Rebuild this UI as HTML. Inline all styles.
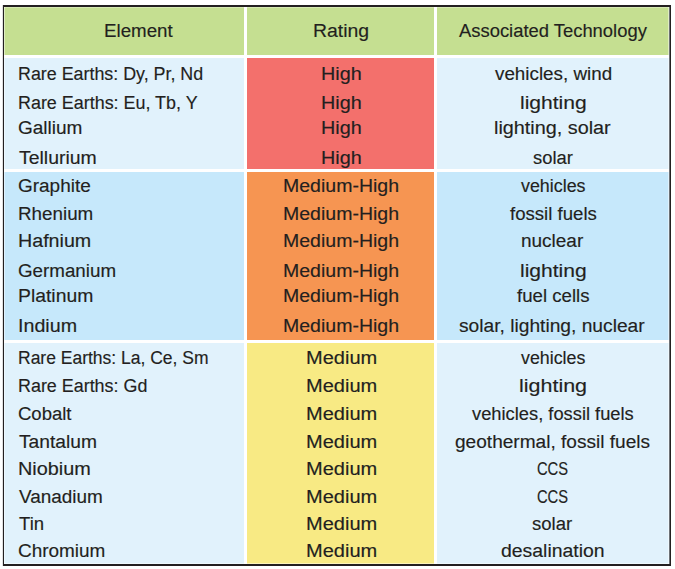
<!DOCTYPE html>
<html><head><meta charset="utf-8"><style>
html,body{margin:0;padding:0;background:#fff;width:675px;height:569px;overflow:hidden;position:relative}
.c{position:absolute}
.t{position:absolute;font-family:"Liberation Sans",sans-serif;font-size:18px;line-height:20px;white-space:nowrap;color:#231f20;-webkit-text-stroke:0.15px #231f20;transform-origin:0 0}
.bd{position:absolute;background:#231f20}
</style></head><body>
<div class="c" style="left:4px;top:7px;width:240px;height:48px;background:#c5df91"></div>
<div class="c" style="left:247px;top:7px;width:187px;height:48px;background:#c5df91"></div>
<div class="c" style="left:437px;top:7px;width:232px;height:48px;background:#c5df91"></div>
<div class="c" style="left:4px;top:58px;width:240px;height:111px;background:#e1f2fc"></div>
<div class="c" style="left:247px;top:58px;width:187px;height:111px;background:#f3706c"></div>
<div class="c" style="left:437px;top:58px;width:232px;height:111px;background:#e1f2fc"></div>
<div class="c" style="left:4px;top:172px;width:240px;height:168px;background:#c6e8fb"></div>
<div class="c" style="left:247px;top:172px;width:187px;height:168px;background:#f69552"></div>
<div class="c" style="left:437px;top:172px;width:232px;height:168px;background:#c6e8fb"></div>
<div class="c" style="left:4px;top:343px;width:240px;height:221px;background:#e1f2fc"></div>
<div class="c" style="left:247px;top:343px;width:187px;height:221px;background:#f8ea84"></div>
<div class="c" style="left:437px;top:343px;width:232px;height:221px;background:#e1f2fc"></div>

<div class="bd" style="left:4px;top:7px;width:1px;height:557px;background:rgba(255,255,255,.45)"></div>
<div class="bd" style="left:4px;top:7px;width:665px;height:1px;background:rgba(255,255,255,.3)"></div>
<div class="bd" style="left:668px;top:7px;width:1px;height:557px;background:rgba(255,255,255,.45)"></div>
<div class="bd" style="left:4px;top:563px;width:665px;height:1px;background:rgba(255,255,255,.45)"></div>
<div class="bd" style="left:2px;top:5px;width:1px;height:561px;background:rgba(0,0,0,.12)"></div>
<div class="bd" style="left:669px;top:5px;width:1px;height:561px;background:#6e7276"></div>
<div class="bd" style="left:3px;top:5px;width:668px;height:2px"></div>
<div class="bd" style="left:3px;top:5px;width:1px;height:561px"></div>
<div class="bd" style="left:670px;top:5px;width:1px;height:561px"></div>
<div class="bd" style="left:3px;top:564px;width:668px;height:2px"></div>
<div class="t" style="left:104.34px;top:21px;transform:scaleX(1.0403)">Element</div><div class="t" style="left:313.28px;top:21px;transform:scaleX(1.0788)">Rating</div><div class="t" style="left:458.80px;top:21px;transform:scaleX(1.0220)">Associated Technology</div><div class="t" style="left:17.71px;top:64px;transform:scaleX(0.9918)">Rare Earths: Dy, Pr, Nd</div><div class="t" style="left:321.45px;top:64px;transform:scaleX(1.0986)">High</div><div class="t" style="left:495.00px;top:64px;transform:scaleX(1.0450)">vehicles, wind</div><div class="t" style="left:17.71px;top:93px;transform:scaleX(0.9955)">Rare Earths: Eu, Tb, Y</div><div class="t" style="left:321.45px;top:93px;transform:scaleX(1.0986)">High</div><div class="t" style="left:519.54px;top:93px;transform:scaleX(1.1689)">lighting</div><div class="t" style="left:18.41px;top:118px;transform:scaleX(1.0565)">Gallium</div><div class="t" style="left:321.45px;top:118px;transform:scaleX(1.0986)">High</div><div class="t" style="left:494.32px;top:118px;transform:scaleX(1.1005)">lighting, solar</div><div class="t" style="left:18.93px;top:148px;transform:scaleX(1.0799)">Tellurium</div><div class="t" style="left:321.45px;top:148px;transform:scaleX(1.0986)">High</div><div class="t" style="left:532.79px;top:148px;transform:scaleX(1.0196)">solar</div><div class="t" style="left:18.41px;top:176px;transform:scaleX(1.0533)">Graphite</div><div class="t" style="left:283.47px;top:176px;transform:scaleX(1.0842)">Medium-High</div><div class="t" style="left:521.00px;top:176px;transform:scaleX(0.9922)">vehicles</div><div class="t" style="left:17.63px;top:204px;transform:scaleX(1.0446)">Rhenium</div><div class="t" style="left:283.47px;top:204px;transform:scaleX(1.0842)">Medium-High</div><div class="t" style="left:509.74px;top:204px;transform:scaleX(1.0330)">fossil fuels</div><div class="t" style="left:17.56px;top:231px;transform:scaleX(1.0930)">Hafnium</div><div class="t" style="left:283.47px;top:231px;transform:scaleX(1.0842)">Medium-High</div><div class="t" style="left:521.38px;top:231px;transform:scaleX(1.0539)">nuclear</div><div class="t" style="left:18.42px;top:261px;transform:scaleX(1.0428)">Germanium</div><div class="t" style="left:283.47px;top:261px;transform:scaleX(1.0842)">Medium-High</div><div class="t" style="left:519.54px;top:261px;transform:scaleX(1.1689)">lighting</div><div class="t" style="left:17.59px;top:286px;transform:scaleX(1.0756)">Platinum</div><div class="t" style="left:283.47px;top:286px;transform:scaleX(1.0842)">Medium-High</div><div class="t" style="left:517.04px;top:286px;transform:scaleX(1.0354)">fuel cells</div><div class="t" style="left:17.56px;top:316px;transform:scaleX(1.0932)">Indium</div><div class="t" style="left:283.47px;top:316px;transform:scaleX(1.0842)">Medium-High</div><div class="t" style="left:459.47px;top:316px;transform:scaleX(1.0663)">solar, lighting, nuclear</div><div class="t" style="left:17.74px;top:348px;transform:scaleX(0.9716)">Rare Earths: La, Ce, Sm</div><div class="t" style="left:305.83px;top:348px;transform:scaleX(1.1122)">Medium</div><div class="t" style="left:521.20px;top:348px;transform:scaleX(0.9891)">vehicles</div><div class="t" style="left:17.71px;top:376px;transform:scaleX(0.9945)">Rare Earths: Gd</div><div class="t" style="left:305.83px;top:376px;transform:scaleX(1.1122)">Medium</div><div class="t" style="left:518.91px;top:376px;transform:scaleX(1.1927)">lighting</div><div class="t" style="left:18.43px;top:404px;transform:scaleX(1.0283)">Cobalt</div><div class="t" style="left:305.83px;top:404px;transform:scaleX(1.1122)">Medium</div><div class="t" style="left:472.10px;top:404px;transform:scaleX(1.0170)">vehicles, fossil fuels</div><div class="t" style="left:18.93px;top:432px;transform:scaleX(1.0676)">Tantalum</div><div class="t" style="left:305.83px;top:432px;transform:scaleX(1.1122)">Medium</div><div class="t" style="left:455.41px;top:432px;transform:scaleX(1.0599)">geothermal, fossil fuels</div><div class="t" style="left:17.54px;top:459px;transform:scaleX(1.1039)">Niobium</div><div class="t" style="left:305.83px;top:459px;transform:scaleX(1.1122)">Medium</div><div class="t" style="left:537.19px;top:459px;transform:scaleX(0.8164)">CCS</div><div class="t" style="left:19.20px;top:487px;transform:scaleX(1.0514)">Vanadium</div><div class="t" style="left:305.83px;top:487px;transform:scaleX(1.1122)">Medium</div><div class="t" style="left:537.19px;top:487px;transform:scaleX(0.8164)">CCS</div><div class="t" style="left:18.94px;top:514px;transform:scaleX(1.0304)">Tin</div><div class="t" style="left:305.83px;top:514px;transform:scaleX(1.1122)">Medium</div><div class="t" style="left:532.28px;top:514px;transform:scaleX(1.0301)">solar</div><div class="t" style="left:18.41px;top:541px;transform:scaleX(1.0523)">Chromium</div><div class="t" style="left:305.83px;top:541px;transform:scaleX(1.1122)">Medium</div><div class="t" style="left:500.99px;top:541px;transform:scaleX(1.0790)">desalination</div>
</body></html>
